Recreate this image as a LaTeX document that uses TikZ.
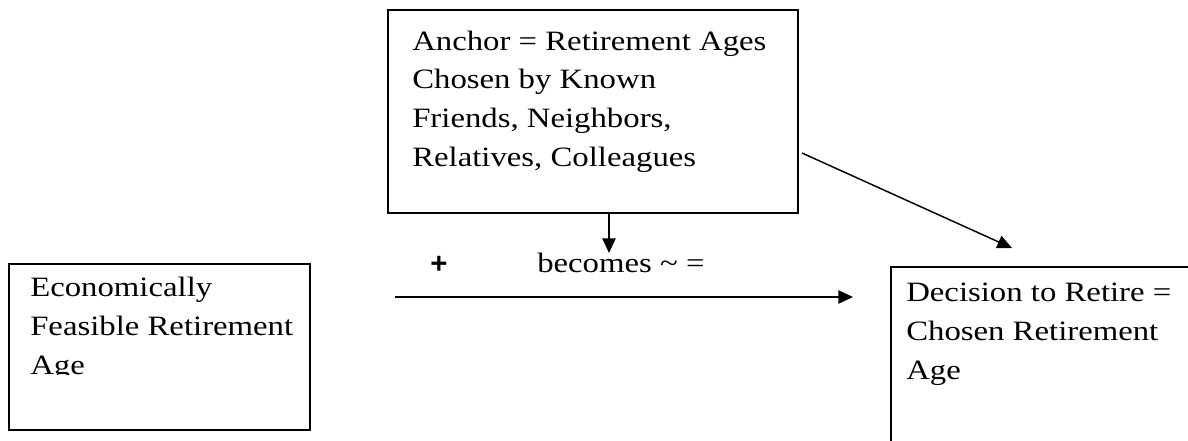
\documentclass[tikz,border=0pt]{standalone}
\usepackage{fontspec}
\setmainfont{Liberation Serif}[FakeStretch=1.17]
\setsansfont{Liberation Sans}
\usetikzlibrary{arrows.meta}

\tikzset{
  box/.style={draw, line width=1.4pt, inner sep=0pt, anchor=north west},
  boxtext/.style={anchor=base west, inner sep=0pt, align=left,
    font=\fontsize{21}{28.9}\selectfont},
  link/.style={->, line width=1.1pt}
}

\begin{document}
\begin{tikzpicture}[x=0.75pt, y=-0.75pt, >={Triangle[length=11pt, width=10pt]}]

\useasboundingbox (0,0) rectangle (1188,440);

% Anchor box (text placed by its last baseline)
\node[box, minimum width=410*0.75pt, minimum height=203*0.75pt] (anchorbox) at (387,9) {};
\node[boxtext] (anchortext) at (412,166) {Anchor = Retirement Ages\\Chosen by Known\\Friends, Neighbors,\\Relatives, Colleagues};

% Economically feasible box
\node[box, minimum width=301*0.75pt, minimum height=166*0.75pt] (feasbox) at (8,263) {};
\begin{scope}
  \clip (8,263) rectangle (309,374);
  \node[boxtext] (feastext) at (30,374) {Economically\\Feasible Retirement\\Age};
\end{scope}

% Decision box
\node[box, minimum width=320*0.75pt, minimum height=200*0.75pt] (decbox) at (890,266) {};
\node[boxtext] (dectext) at (906,379) {Decision to Retire =\\Chosen Retirement\\Age};

% Labels on the horizontal arrow
\node[font=\sffamily\bfseries\fontsize{22}{24}\selectfont, anchor=base, inner sep=0pt] (plus) at (439,273) {+};
\node[font=\fontsize{21}{26}\selectfont, anchor=base west, inner sep=0pt] (becomes) at (537,272) {becomes \textasciitilde{} =};

% Connectors
\coordinate (dn) at (609,253);
\coordinate (hstart) at (395,297);
\coordinate (hend) at (853,297);
\coordinate (dstart) at (802,153);
\coordinate (dend) at (1012,248);

\draw[link] (anchorbox.south -| dn) -- (dn);
\draw[link] (hstart) -- (hend);
\draw[link] (dstart) -- (dend);

\end{tikzpicture}
\end{document}
